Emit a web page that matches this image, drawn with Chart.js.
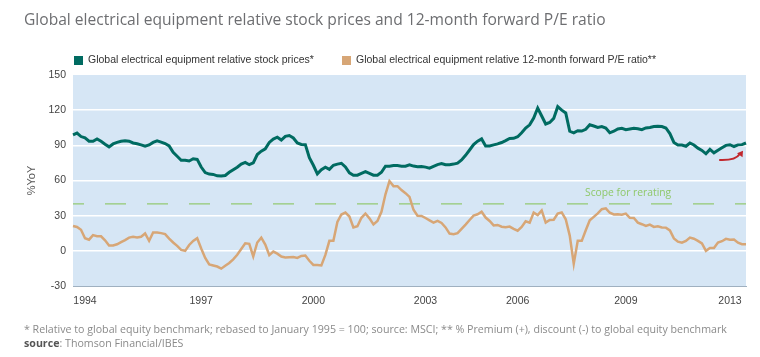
<!DOCTYPE html>
<html>
<head>
<meta charset="utf-8">
<script src="https://cdn.jsdelivr.net/npm/chart.js@4"></script>
<style>
  html, body { margin: 0; padding: 0; background: #ffffff; }
  #wrap { position: relative; width: 760px; height: 357px; overflow: hidden; }
  #c { position: absolute; left: 0; top: 0; }
  .txt { position: absolute; white-space: nowrap; }
  #title { left: 24px; top: 8px; font-family: "Open Sans", sans-serif; font-size: 15.6px; color: #6d6e71; }
  .leg { top: 53px; font-family: "Liberation Sans", Arial, sans-serif; font-size: 10.5px; color: #333; }
  .sw { position: absolute; width: 9px; height: 9px; top: 56px; }
  #scope { left: 585px; top: 185px; font-family: "Open Sans", sans-serif; font-size: 10.3px; color: #8fc86a; }
  .foot { left: 24px; font-family: "Open Sans", sans-serif; font-size: 10.65px; color: #8a8a8a; }
  .foot b { color: #555; font-weight: 700; }
</style>
</head>
<body>
<div id="wrap">
  <canvas id="c" width="760" height="357"></canvas>
  <div id="title" class="txt">Global electrical equipment relative stock prices and 12-month forward P/E ratio</div>
  <div class="sw" style="left:74px;background:#006b61"></div>
  <div class="txt leg" style="left:88px">Global electrical equipment relative stock prices*</div>
  <div class="sw" style="left:342px;background:#d7a676"></div>
  <div class="txt leg" style="left:356px">Global electrical equipment relative 12-month forward P/E ratio**</div>
  <div id="scope" class="txt">Scope for rerating</div>
  <div class="txt foot" style="top:322px">* Relative to global equity benchmark; rebased to January 1995 = 100; source: MSCI; ** % Premium (+), discount (-) to global equity benchmark</div>
  <div class="txt foot" style="top:336px"><b>source</b>: Thomson Financial/IBES</div>
</div>
<script>
// ---- Data ----
const stockPrices = [
  99, 100.5, 97.5, 96.3, 93.5, 93.5, 95.5, 93.5, 91, 88.7,
  91.2, 92.5, 93.5, 94, 93.5, 92, 91.3, 90.4, 89.2, 90.3,
  92.5, 93.8, 92.8, 91.5, 89.5, 84, 80.7, 77.3, 77.3, 76.6,
  78.5, 78, 71.5, 66.8, 65.5, 65.2, 64, 63.8, 64.3, 67,
  69.2, 71.3, 74, 75.5, 73.5, 75.1, 82.2, 85, 87, 92.5,
  95.3, 96.9, 94.5, 97.7, 98.4, 96.3, 92, 90.8, 90.6, 79.5,
  73, 65.7, 69.2, 71.4, 69.5, 73, 74, 74.7, 71.5, 66.5,
  64.5, 64.5, 66, 67.5, 66, 64.5, 64.5, 67, 72.2, 72.2,
  72.7, 72.7, 72.2, 72.2, 73.4, 72.3, 71.7, 72, 71.4, 70.5,
  72, 73.5, 74.5, 73.5, 73.5, 74, 74.8, 77.5, 81.5, 86,
  90.6, 93.5, 95.5, 89.5, 89.5, 90.4, 91.2, 92.4, 94, 95.8,
  96, 97.3, 100.7, 104.8, 107.5, 113.3, 121.8, 115, 108.2, 109.5,
  113, 123, 120, 117.6, 102, 100.6, 102.5, 102.2, 103.7, 107.5,
  106.5, 105.3, 106, 104.8, 100.7, 102, 104, 104.5, 103.4, 104,
  104.6, 104.2, 103.3, 104.8, 105.3, 106, 106.2, 106, 104.8, 100,
  92.5, 90.3, 90.3, 89.2, 92, 90.3, 87.6, 85.7, 82.8, 86.5,
  83.6, 85.8, 88, 90, 90.5, 89, 90.4, 90.6, 92
];
const peRatio = [
  21.2, 20.4, 18, 10.8, 9.5, 13.4, 12.5, 12.4, 9, 4.5,
  4.5, 5.6, 7.5, 9.2, 11.3, 11.9, 11.4, 12, 14.8, 8.5,
  15.6, 15.6, 15.1, 14.3, 10.5, 7.1, 4.2, 0.8, 0, 5,
  8.5, 10.8, 2, -6, -11.6, -12.5, -13.4, -15.2, -12.7, -10.4,
  -7.3, -3.4, 1.5, 6.4, 6, -4.7, 7.1, 11.2, 5.4, -3.7,
  -0.6, -2.4, -4.9, -5.6, -5.4, -5.2, -6, -4.4, -4, -8.5,
  -12, -12, -12.5, -3.5, 8.5, 8.5, 24.6, 31, 32.6, 29.3,
  19.9, 21, 28.2, 31.8, 27.7, 22.6, 25.5, 33.3, 48.2, 59.5,
  55.2, 55.2, 51.8, 49.2, 46, 35, 30, 29.8, 28, 26,
  24.1, 25.5, 23.8, 20, 14.7, 14.2, 15.1, 18.8, 22.4, 26.3,
  30, 31.2, 33.4, 28.4, 25.5, 21.7, 22.1, 20.6, 20.2, 20.7,
  18.7, 17.2, 20.3, 25.2, 24, 32.6, 30.5, 34.5, 24.1, 26.4,
  26.5, 31.8, 32.8, 26.9, 13, -11, 8.5, 8.5, 17.6, 26,
  29, 32, 35.5, 36.2, 32.5, 31, 31.3, 30.8, 31.8, 28.2,
  28, 24.1, 22.7, 21.2, 22.4, 20.4, 21, 20, 19.8, 17.4,
  10.6, 7.8, 6.9, 8.5, 11.3, 10.3, 8.5, 6.3, 0, 2.4,
  2.5, 7.1, 8.2, 10.2, 9.5, 9.6, 7, 5.7, 5.7
];
const scopeLevel = 40;                 // "Scope for rerating" reference level
const yTicks = [-30, 0, 30, 60, 90, 120, 150];
const yearTicks = ['1994', '1997', '2000', '2003', '2006', '2009', '2013'];
const yearTickIndex = [3, 32, 60, 88, 111, 138, 164];
// periods (observation index along the time axis)
const periods = stockPrices.map((_, i) => 'p' + i);
// arrow annotation: [period index, value] tail and head
const arrowFrom = [161.5, 77.5];
const arrowTo = [167, 84.5];

// ---- Plugins ----
const plotBg = {
  id: 'plotBg',
  beforeDraw(chart) {
    const { ctx, chartArea: a } = chart;
    ctx.save();
    ctx.fillStyle = '#d6e6f5';
    ctx.fillRect(a.left, a.top, a.right - a.left, a.bottom - a.top);
    ctx.restore();
  }
};
const arrowPlugin = {
  id: 'arrowPlugin',
  afterDatasetsDraw(chart) {
    const { ctx, scales: { x, y } } = chart;
    const x0 = x.getPixelForValue(arrowFrom[0]), y0 = y.getPixelForValue(arrowFrom[1]);
    const x1 = x.getPixelForValue(arrowTo[0]), y1 = y.getPixelForValue(arrowTo[1]);
    const cx = x0 + (x1 - x0) * 0.72, cy = y0 + 0.5;
    ctx.save();
    ctx.strokeStyle = '#c1272d';
    ctx.fillStyle = '#c1272d';
    ctx.lineWidth = 2;
    ctx.lineCap = 'round';
    ctx.beginPath();
    ctx.moveTo(x0, y0);
    ctx.quadraticCurveTo(cx, cy, x1 - 2.5, y1 + 2.5);
    ctx.stroke();
    const ang = Math.atan2(y1 - cy, x1 - cx);
    ctx.beginPath();
    ctx.moveTo(x1 + 1, y1 - 1);
    ctx.lineTo(x1 + 1 - 6.5 * Math.cos(ang - 0.55), y1 - 1 - 6.5 * Math.sin(ang - 0.55));
    ctx.lineTo(x1 + 1 - 6.5 * Math.cos(ang + 0.55), y1 - 1 - 6.5 * Math.sin(ang + 0.55));
    ctx.closePath();
    ctx.fill();
    ctx.restore();
  }
};

new Chart(document.getElementById('c'), {
  type: 'line',
  data: {
    labels: periods,
    datasets: [
      {
        label: 'Global electrical equipment relative stock prices*',
        data: stockPrices,
        borderColor: '#006b61',
        borderWidth: 3,
        pointRadius: 0,
        tension: 0,
        order: 1
      },
      {
        label: 'Global electrical equipment relative 12-month forward P/E ratio**',
        data: peRatio,
        borderColor: '#d7a676',
        borderWidth: 2.5,
        pointRadius: 0,
        tension: 0,
        order: 2
      },
      {
        label: 'Scope for rerating',
        data: periods.map(() => scopeLevel),
        borderColor: '#94c973',
        borderWidth: 1.3,
        borderDash: [21, 21],
        borderDashOffset: 10,
        pointRadius: 0,
        order: 3
      }
    ]
  },
  options: {
    responsive: false,
    animation: false,
    devicePixelRatio: 1,
    layout: { padding: { left: 0, right: 14, top: 75, bottom: 41 } },
    plugins: { legend: { display: false }, tooltip: { enabled: false }, title: { display: false } },
    scales: {
      x: {
        type: 'category',
        offset: false,
        grid: { display: false, drawTicks: false },
        border: { display: true, color: '#9fb0c0', width: 1 },
        afterFit(s) { s.height = 30; },
        ticks: {
          autoSkip: false,
          maxRotation: 0,
          minRotation: 0,
          padding: 9,
          color: '#444',
          font: { family: 'Liberation Sans, Arial, sans-serif', size: 10.5 },
          callback(v, i) {
            const k = yearTickIndex.indexOf(i);
            return k >= 0 ? yearTicks[k] : '';
          }
        }
      },
      y: {
        min: -30,
        max: 150,
        afterFit(s) { s.width = 73; },
        afterBuildTicks(s) { s.ticks = yTicks.map(v => ({ value: v })); },
        grid: {
          drawTicks: false,
          color: (c) => (c.tick && (c.tick.value === -30 || c.tick.value === 150)) ? 'rgba(0,0,0,0)' : '#ffffff',
          lineWidth: 1.5
        },
        border: { display: false },
        title: {
          display: true,
          text: '%YoY',
          color: '#555',
          font: { family: 'Liberation Sans, Arial, sans-serif', size: 11 },
          padding: { top: 25, bottom: 0 }
        },
        ticks: {
          padding: 7,
          color: '#444',
          font: { family: 'Liberation Sans, Arial, sans-serif', size: 10.5 }
        }
      }
    }
  },
  plugins: [plotBg, arrowPlugin]
});
</script>
</body>
</html>
